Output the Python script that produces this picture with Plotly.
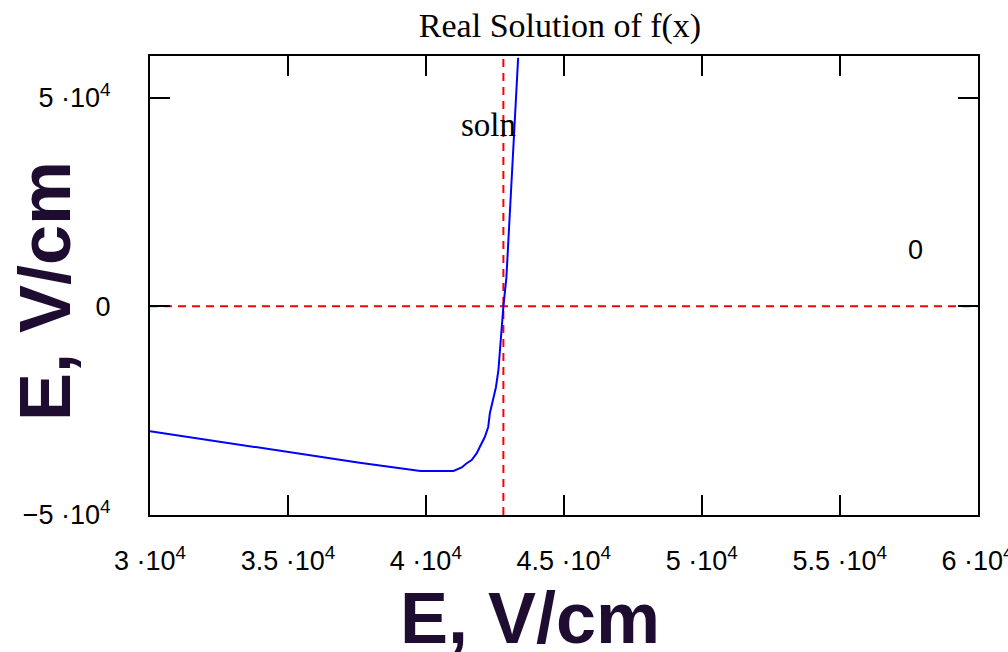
import plotly.graph_objects as go

# Curve f(x)
x_vals = [30000, 32900, 35700, 37600, 39800, 41000, 41300, 41470, 41660, 41840,
          41960, 42140, 42260, 42320, 42430, 42540, 42630, 42720, 42810, 42920,
          43020, 43130, 43225, 43345]
y_vals = [-29900, -32850, -35650, -37500, -39450, -39450, -38600, -37650, -36850, -35250,
          -33650, -31250, -28900, -25600, -22490, -19380, -15310, -7420, 0, 6940,
          20100, 31820, 46410, 59570]

soln = 42810
x_range = [30000, 60000]
y_range = [-50000, 60000]

x_tickvals = [30000, 35000, 40000, 45000, 50000, 55000, 60000]
x_ticktext = ["3 ·10<sup>4</sup>", "3.5 ·10<sup>4</sup>", "4 ·10<sup>4</sup>", "4.5 ·10<sup>4</sup>",
              "5 ·10<sup>4</sup>", "5.5 ·10<sup>4</sup>", "6 ·10<sup>4</sup>"]
y_tickvals = [-50000, 0, 50000]
y_ticktext = ["−5 ·10<sup>4</sup>", "0", "5 ·10<sup>4</sup>"]

title_text = "Real Solution of f(x)"
axis_title = "E, V/cm"

fig = go.Figure()

# horizontal zero line (dashed red)
fig.add_trace(go.Scatter(x=x_range, y=[0, 0], mode="lines",
                         line=dict(color="#ff0000", width=2, dash="8px,6px"),
                         hoverinfo="skip", showlegend=False))
# vertical solution line (dashed red)
fig.add_trace(go.Scatter(x=[soln, soln], y=y_range, mode="lines",
                         line=dict(color="#ff0000", width=2, dash="8px,6px"),
                         hoverinfo="skip", showlegend=False))
# f(x)
fig.add_trace(go.Scatter(x=x_vals, y=y_vals, mode="lines",
                         line=dict(color="#0000ff", width=2),
                         showlegend=False, name="f(x)"))

tick_font = dict(family="Liberation Sans", size=27, color="#000000")

fig.update_layout(
    width=1008, height=652,
    margin=dict(l=150, r=30, t=56, b=137, autoexpand=False),
    paper_bgcolor="white", plot_bgcolor="white",
    title=dict(text=title_text, x=560/1008, xanchor="center", y=1-25/652, yanchor="middle",
               font=dict(family="Liberation Serif", size=34, color="#000000")),
    xaxis=dict(range=[x_range[0], x_range[1] + 15], tickvals=x_tickvals, ticktext=x_ticktext,
               showgrid=False, zeroline=False, showline=True, linecolor="black", linewidth=2,
               mirror="ticks", ticks="inside", ticklen=20, tickwidth=2, tickcolor="black",
               tickfont=tick_font, ticklabelstandoff=21, ticklabeloverflow="allow",
               automargin=False),
    yaxis=dict(range=y_range, tickvals=y_tickvals, ticktext=y_ticktext,
               showgrid=False, zeroline=False, showline=True, linecolor="black", linewidth=2,
               mirror="ticks", ticks="inside", ticklen=20, tickwidth=2, tickcolor="black",
               tickfont=tick_font, ticklabelstandoff=32, ticklabeloverflow="allow",
               automargin=False),
    annotations=[
        dict(text="soln", x=42283, y=43540, xref="x", yref="y", showarrow=False,
             xanchor="center", yanchor="middle",
             font=dict(family="Liberation Serif", size=33, color="#000000")),
        dict(text="0", x=57754, y=13400, xref="x", yref="y", showarrow=False,
             xanchor="center", yanchor="middle", font=tick_font),
        dict(text=axis_title, x=(530-150)/828, y=-(618-515)/459, xref="paper", yref="paper",
             showarrow=False, xanchor="center", yanchor="middle",
             font=dict(family="Liberation Sans", size=72, color="#1e0d30", weight="bold")),
        dict(text=axis_title, x=(45-150)/828, y=(515-291)/459, xref="paper", yref="paper",
             showarrow=False, xanchor="center", yanchor="middle", textangle=-90,
             font=dict(family="Liberation Sans", size=72, color="#1e0d30", weight="bold")),
    ],
)

fig.write_html("out.html", config={"displayModeBar": False},
               post_script="document.body.style.margin='0px';document.body.style.overflow='hidden';")
